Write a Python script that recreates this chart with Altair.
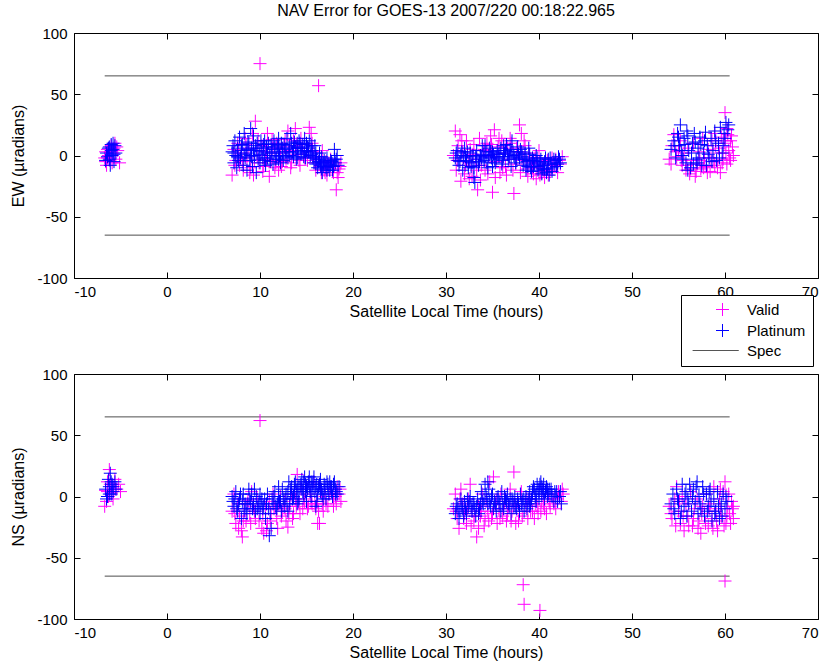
import altair as alt
import pandas as pd

TITLE = "NAV Error for GOES-13 2007/220 00:18:22.965"
X_TITLE = "Satellite Local Time (hours)"

x_ticks = [-10, 0, 10, 20, 30, 40, 50, 60, 70]
y_ticks = [-100, -50, 0, 50, 100]

# spec limits (+/- 65 microradians) drawn over the span of the observations
spec_levels = [65, -65]
spec_start = -6.7
spec_end = 60.5

series_names = ["Valid", "Platinum", "Spec"]
series_colors = ["#ff00ff", "#0000ff", "#555555"]

# ---- EW error, valid landmarks (hours, microradians)
ew_valid = [
    (-6.7, -2), (-6.6, 3), (-6.5, -8), (-6.4, 5), (-6.2, -4), (-6.0, 8), (-5.9, -6),
    (-5.8, 2), (-5.6, 10), (-5.5, -3), (-5.3, 4), (-5.1, -6), (-6.3, 0), (-5.7, 6),
    (-6.6, -5), (-6.1, 3), (-5.4, 7), (-6.4, -2),
    (7.0, -16), (7.2, 5), (7.4, -4), (7.6, 10), (7.8, -8), (8.0, 2), (8.2, -12), (8.4, 14),
    (8.6, -2), (8.8, 6), (9.0, -10), (9.2, 18), (9.3, -16), (9.5, 28), (9.7, 0), (9.9, -6),
    (10.0, 75), (10.2, 8), (10.4, -9), (10.6, 3), (10.8, 18), (11.0, -17), (11.2, -4),
    (11.4, 6), (11.6, -10), (11.8, 10), (12.0, -12), (12.2, 2), (12.4, -5), (12.6, 7),
    (12.8, -3), (13.0, 20), (13.2, 4), (13.4, -6), (13.6, 12), (13.8, 22), (14.0, 1),
    (14.2, -4), (14.4, 14), (14.6, 6), (14.8, -2), (15.0, 9), (15.3, 23), (15.5, 18),
    (15.7, 3), (15.9, -6), (16.1, -2), (16.3, 57), (16.5, -9), (16.7, 4), (16.9, -12),
    (17.1, -5), (17.3, -10), (17.6, -3), (17.9, -14), (18.0, -8), (18.2, -28), (18.3, -14),
    (18.5, -11), (18.7, -6),
    (7.3, -8), (7.7, 4), (8.1, -5), (8.5, 9), (8.9, -14), (9.4, -4), (9.8, 12), (10.3, -13),
    (10.7, -3), (11.3, 13), (11.7, -6), (12.3, -9), (12.7, 13), (13.3, -10), (13.9, 8),
    (14.3, -8), (15.1, -4), (15.6, 10), (16.0, -12), (16.6, -14), (17.0, -14), (17.4, -6),
    (17.8, -9), (18.4, -18), (18.6, -9), (17.2, -16),
    (30.8, 0), (31.0, 20), (31.1, -12), (31.3, 8), (31.5, 17), (31.6, -21), (31.8, 3),
    (32.0, -15), (32.2, 12), (32.4, -6), (32.6, 5), (32.8, -17), (33.0, 9), (33.2, -3),
    (33.4, -28), (33.6, 14), (33.8, -8), (34.0, 4), (34.2, -12), (34.4, 10), (34.6, -1),
    (34.8, 16), (35.0, -30), (35.2, 21), (35.4, -5), (35.6, 7), (35.8, -14), (36.0, 12),
    (36.2, 2), (36.4, -9), (36.6, 6), (36.8, -3), (37.0, 10), (37.3, -31), (37.5, -7),
    (37.7, 3), (37.9, 25), (38.1, 18), (38.3, -4), (38.5, 8), (38.7, -11), (38.9, 2),
    (39.2, -6), (39.4, -15), (39.6, -2), (39.8, -10), (40.0, 4), (40.2, -13), (40.4, -7),
    (40.6, -18), (40.9, -4), (41.2, -12), (41.5, -8), (41.8, -3), (42.0, -14), (42.3, -7),
    (42.5, -1),
    (31.2, -4), (31.7, 12), (32.1, -8), (32.5, -19), (32.9, 1), (33.3, -12), (33.7, -20),
    (34.1, 5), (34.5, -15), (34.9, 9), (35.3, -18), (35.7, 14), (36.1, -10), (36.5, -16),
    (36.9, 14), (37.2, -12), (37.6, 6), (38.0, -14), (38.4, 12), (38.8, -17), (39.3, -10),
    (39.7, -19), (40.1, -16), (40.5, -12), (41.0, -16), (41.4, -2), (41.9, -9), (42.2, -4),
    (54.0, -3), (54.3, 8), (54.5, 17), (54.8, -1), (55.0, 4), (55.2, 12), (55.4, -8),
    (55.6, 2), (55.8, -12), (56.0, 6), (56.2, -15), (56.4, -4), (56.6, 10), (56.8, -17),
    (57.0, -7), (57.2, 3), (57.4, -11), (57.6, 14), (57.8, -2), (58.0, -9), (58.2, 5),
    (58.4, -13), (58.6, 12), (58.8, -5), (59.0, 8), (59.2, -10), (59.4, 2), (59.6, 15),
    (59.8, -3), (60.0, 35), (60.0, 10), (60.2, -7), (60.4, 4), (60.6, 12), (60.8, 7),
    (60.9, 0), (59.5, -14), (58.9, 18), (60.3, 17),
    (54.2, -7), (54.7, 3), (55.3, -4), (55.9, -8), (56.3, -11), (56.9, -13), (57.3, -4),
    (57.7, -10), (58.1, -14), (58.5, -2), (58.9, -8), (59.3, 6), (59.7, -6), (60.1, 2),
    (60.5, -2), (60.7, 16), (60.2, 22), (59.9, 12), (60.6, -4),
]

# ---- EW error, platinum landmarks
ew_platinum = [
    (-6.6, -4), (-6.5, 2), (-6.3, 6), (-6.2, -3), (-6.0, 9), (-5.9, 0), (-5.8, 5),
    (-5.7, -5), (-5.6, 8), (-5.5, 2), (-6.1, -8), (-5.8, 10),
    (-6.4, -1), (-6.0, 4), (-5.7, 1), (-6.2, 7),
    (7.0, 3), (7.2, -6), (7.3, 12), (7.5, -10), (7.6, 6), (7.8, 15), (7.9, -2), (8.1, 9),
    (8.2, -8), (8.3, 18), (8.5, 2), (8.6, -12), (8.7, 11), (8.9, -4), (9.0, 22), (9.1, 6),
    (9.2, -9), (9.3, 16), (9.4, 0), (9.6, -14), (9.7, 10), (9.9, 4), (10.0, -6), (10.1, 12),
    (10.3, -2), (10.4, 6), (10.6, -8), (10.8, 2), (10.9, 10), (11.1, -5), (11.3, 5),
    (11.5, 12), (11.7, -3), (11.9, 8), (12.1, 0), (12.3, 10), (12.5, -4), (12.7, 5),
    (12.9, 14), (13.0, -2), (13.2, 8), (13.3, 18), (13.5, 3), (13.7, 11), (13.9, -3),
    (14.0, 6), (14.2, 12), (14.4, 1), (14.6, 9), (14.8, 14), (14.9, -2), (15.1, 7),
    (15.3, 12), (15.4, 0), (15.6, 4), (15.8, -6), (15.9, 8), (16.1, -3), (16.2, -10),
    (16.4, 2), (16.5, -8), (16.7, -14), (16.9, -4), (17.1, -10), (17.3, -7), (17.5, -12),
    (17.7, -5), (17.9, -9), (18.0, 5), (18.2, -3), (18.4, -8),
    (7.1, 8), (7.4, 0), (7.7, -4), (8.0, 4), (8.4, -2), (8.8, 10), (9.1, -1), (9.5, 8),
    (9.8, -3), (10.2, 3), (10.5, -4), (10.7, 7), (11.0, 0), (11.2, 9), (11.4, -7),
    (11.6, 3), (11.8, -1), (12.0, 6), (12.2, -6), (12.4, 2), (12.6, 9), (12.8, -1),
    (13.1, 3), (13.4, 10), (13.6, -1), (13.8, 7), (14.1, 2), (14.3, 10), (14.5, 4),
    (14.7, -1), (15.0, 10), (15.2, 3), (15.5, 8), (15.7, -2), (16.0, 2), (16.3, -5),
    (16.6, -1), (16.8, -9), (17.0, -6), (17.2, -2), (17.4, -9), (17.6, -4), (17.8, -12),
    (18.1, -6), (18.3, 0), (14.0, -2), (15.0, 4), (16.0, -7), (12.0, 14), (10.5, 12),
    (7.2, 2), (7.6, -1), (8.0, 8), (8.3, 1), (8.6, 5), (9.0, 0), (9.3, 4), (9.6, 6),
    (10.0, 1), (10.4, 9), (10.8, -2), (11.2, 2), (11.6, 7), (12.0, -3), (12.4, 6),
    (12.8, 3), (13.2, 0), (13.6, 6), (14.0, 10), (14.4, 6), (14.8, 3), (15.2, 6),
    (15.6, 1), (16.0, -1), (16.4, -3), (16.8, -6), (17.2, -12), (17.6, -8), (18.0, -3),
    (16.6, -11),
    (31.0, -2), (31.2, 4), (31.4, -8), (31.6, 0), (31.8, -12), (32.0, 6), (32.2, -4),
    (32.4, -10), (32.6, 2), (32.8, -6), (33.0, -18), (33.1, -22), (33.3, 4), (33.5, -8),
    (33.7, 0), (33.9, 8), (34.1, -4), (34.3, 3), (34.5, -10), (34.7, 6), (34.9, -2),
    (35.1, 1), (35.3, -6), (35.5, 4), (35.7, -1), (35.9, 6), (36.1, -4), (36.3, 2),
    (36.5, 9), (36.7, -3), (36.9, 5), (37.1, 12), (37.3, 0), (37.5, -6), (37.7, 7),
    (37.9, -2), (38.1, 3), (38.3, -8), (38.5, 2), (38.7, -5), (38.9, 6), (39.1, -10),
    (39.3, -2), (39.5, -7), (39.7, 0), (39.9, -12), (40.1, -5), (40.3, -15), (40.5, -8),
    (40.7, -2), (40.9, -11), (41.1, -16), (41.3, -6), (41.6, -3), (41.9, -9), (42.1, -1),
    (42.3, -6),
    (31.1, 2), (31.5, -5), (31.9, -2), (32.3, 3), (32.7, -9), (33.2, -1), (33.6, -5),
    (34.0, 1), (34.4, -6), (34.8, 3), (35.2, -3), (35.6, 1), (36.0, -7), (36.4, 4),
    (36.8, -1), (37.2, 3), (37.6, -3), (38.0, 5), (38.4, -3), (38.8, -9), (39.0, 1),
    (39.4, -4), (39.8, -6), (40.0, -9), (40.2, -3), (40.4, -11), (40.6, -5), (40.8, -14),
    (41.0, -7), (41.2, -2), (41.4, -10), (41.8, -4), (42.0, -7), (39.2, -13), (38.6, -12),
    (37.0, -9), (36.2, 8), (35.0, -9), (34.2, 8), (33.0, -10),
    (31.3, -4), (31.7, 3), (32.1, -1), (32.5, -5), (32.9, 0), (33.3, -3), (33.8, -2),
    (34.2, -1), (34.6, 0), (35.0, 3), (35.4, -2), (35.8, 2), (36.2, -1), (36.6, 1),
    (37.0, 3), (37.4, -2), (37.8, 1), (38.2, -1), (38.6, -3), (39.0, -4), (39.4, -9),
    (39.8, -2), (40.2, -8), (40.6, -11), (41.0, -3), (41.4, -13), (41.7, -7), (42.2, -3),
    (54.2, 5), (54.5, 12), (54.7, -2), (54.9, 18), (55.1, 8), (55.2, 25), (55.4, 0),
    (55.6, 14), (55.8, -6), (55.9, 20), (56.1, 4), (56.3, -10), (56.5, 10), (56.7, 18),
    (56.9, -3), (57.1, 6), (57.3, 15), (57.5, -8), (57.7, 2), (57.9, 19), (58.1, 8),
    (58.3, -2), (58.5, 14), (58.7, 4), (58.9, 20), (59.1, -4), (59.3, 10), (59.5, 23),
    (59.7, 2), (59.9, 18), (60.1, 27), (60.3, 21), (56.0, -12), (57.0, -6), (58.0, -8),
    (54.6, 8), (55.0, 15), (55.3, 4), (55.7, 9), (56.0, 16), (56.4, 2), (56.8, 11),
    (57.2, -2), (57.4, 9), (57.8, 12), (58.2, 1), (58.6, -5), (59.0, 12), (59.4, -2),
    (59.8, 8), (60.0, 14), (60.4, 25), (55.5, -3), (56.6, -7),
]

# ---- NS error, valid landmarks
ns_valid = [
    (-6.7, -8), (-6.6, 5), (-6.4, 12), (-6.3, 0), (-6.2, 22), (-6.0, 3), (-5.9, 8),
    (-5.8, -2), (-5.6, 14), (-5.4, 6), (-5.2, 10), (-5.0, 4), (-6.5, -4),
    (-6.1, 10), (-5.7, 6), (-6.4, 4),
    (7.0, -12), (7.2, 2), (7.4, -22), (7.6, -6), (7.8, -16), (8.0, -28), (8.1, -33),
    (8.3, -10), (8.5, -20), (8.7, -3), (8.9, -14), (9.1, 4), (9.3, -8), (9.5, -18),
    (9.7, -2), (10.0, 62), (10.2, -26), (10.4, -30), (10.6, -10), (10.8, -22), (11.0, -4),
    (11.2, -14), (11.4, 2), (11.6, -8), (11.8, -18), (12.0, -6), (12.2, 0), (12.4, -12),
    (12.6, -4), (12.8, -20), (13.0, -25), (13.2, -8), (13.4, 2), (13.6, -14), (13.8, -2),
    (14.0, 18), (14.2, -6), (14.4, 6), (14.6, -10), (14.8, -4), (15.0, 8), (15.2, -8),
    (15.4, 2), (15.6, -6), (15.8, 12), (16.0, -10), (16.2, -4), (16.4, -22), (16.6, 4),
    (16.8, -12), (17.0, 0), (17.3, -8), (17.6, 6), (17.9, -2), (18.1, 0), (18.3, 8),
    (18.5, 2), (18.7, -4),
    (7.3, -14), (7.7, -26), (8.2, -20), (8.6, -6), (9.0, -22), (9.4, -12), (9.9, -20),
    (10.3, -14), (10.7, -28), (11.1, -20), (11.5, -10), (11.9, -26), (12.3, -16),
    (12.7, -10), (13.1, -14), (13.5, -18), (13.9, -8), (14.3, -14), (14.7, -2), (15.1, -10),
    (15.5, -4), (15.9, -6), (16.3, -12), (16.7, -6), (17.1, -6), (17.5, 2), (17.9, -8),
    (18.2, -6), (18.6, 6), (16.2, -22),
    (30.8, -10), (31.0, 2), (31.2, -18), (31.4, -26), (31.6, 6), (31.8, -6), (32.0, -14),
    (32.2, -22), (32.4, -2), (32.6, 10), (32.8, -12), (33.0, -20), (33.3, -33), (33.5, -8),
    (33.7, -16), (33.9, 2), (34.1, -24), (34.3, -4), (34.5, -12), (34.7, 12), (34.9, -18),
    (35.1, 16), (35.3, -6), (35.5, -22), (35.7, -10), (35.9, 2), (36.1, -16), (36.3, -4),
    (36.5, -20), (36.7, -8), (36.9, 6), (37.1, -12), (37.3, 20), (37.5, -22), (37.7, -4),
    (37.9, -14), (38.1, 4), (38.3, -72), (38.4, -88), (38.6, -8), (38.8, -18), (39.0, -2),
    (39.3, -12), (39.6, -6), (39.9, -14), (40.1, -93), (40.3, -4), (40.6, -10), (40.9, 2),
    (41.2, -8), (41.5, -2), (41.8, -10), (42.1, 4), (42.4, -4), (42.6, 2),
    (31.1, -12), (31.5, -2), (31.9, -18), (32.3, -10), (32.7, -24), (33.1, -16), (33.5, -26),
    (33.8, -12), (34.2, -18), (34.6, -20), (35.0, -14), (35.4, -4), (35.8, -18), (36.2, -10),
    (36.6, -14), (37.0, -20), (37.4, -6), (37.8, -20), (38.2, -16), (38.7, -2), (39.1, -12),
    (39.5, -18), (39.8, -8), (40.2, -12), (40.5, -6), (40.8, -14), (41.1, -4), (41.6, -6),
    (42.0, -2), (42.5, 6),
    (54.0, -8), (54.3, -18), (54.6, -2), (54.8, 8), (55.0, -12), (55.2, -22), (55.4, 0),
    (55.6, -28), (55.8, -6), (56.0, -16), (56.3, 4), (56.5, -24), (56.7, -10), (57.0, -2),
    (57.2, -20), (57.4, -30), (57.6, -8), (57.8, -14), (58.0, 2), (58.2, -24), (58.4, -6),
    (58.6, -18), (58.8, 8), (59.0, -12), (59.2, -28), (59.4, -2), (59.6, -16), (59.8, 4),
    (60.0, 12), (60.0, -69), (60.1, -22), (60.3, -8), (60.5, -14), (60.7, -4), (60.9, -18),
    (60.8, -10), (59.5, 6),
    (54.2, -14), (54.7, -24), (55.1, -4), (55.5, -16), (56.1, -24), (56.6, -18),
    (57.1, -26), (57.5, -14), (57.9, -22), (58.3, -10), (58.7, -26), (59.1, -20),
    (59.5, -10), (59.9, -24), (60.2, -16), (60.6, -22), (60.9, -8), (60.4, 2),
]

# ---- NS error, platinum landmarks
ns_platinum = [
    (-6.6, 6), (-6.4, 0), (-6.3, 14), (-6.2, 8), (-6.1, 19), (-6.0, 2), (-5.9, 10),
    (-5.8, 4), (-5.6, 12), (-5.5, 6), (-6.5, -2),
    (-6.2, 2), (-5.8, 8), (-6.0, 12),
    (7.0, 0), (7.2, -8), (7.4, 4), (7.6, -12), (7.8, -2), (8.0, -18), (8.2, 2), (8.4, -6),
    (8.6, -14), (8.8, 6), (9.0, -4), (9.2, -10), (9.4, 6), (9.6, 0), (9.8, -8), (10.0, -14),
    (10.2, -2), (10.4, -8), (10.6, -18), (10.8, 2), (11.0, -32), (11.2, -26), (11.4, -6),
    (11.6, 4), (11.8, -10), (12.0, 0), (12.2, -4), (12.4, 6), (12.6, -8), (12.8, 2),
    (13.0, -12), (13.1, 12), (13.3, 6), (13.5, -2), (13.7, 10), (13.9, 4), (14.1, -4),
    (14.3, 8), (14.5, 14), (14.7, 2), (14.9, 10), (15.1, 6), (15.3, 16), (15.5, 0),
    (15.7, 12), (15.9, 4), (16.1, -4), (16.3, 8), (16.5, 14), (16.7, 2), (16.9, 10),
    (17.1, -2), (17.3, 6), (17.5, 12), (17.7, 4), (17.9, 10), (18.1, 6), (18.3, 2), (18.5, 8),
    (7.1, -4), (7.5, -10), (7.9, 2), (8.3, -12), (8.7, -6), (9.1, 2), (9.5, -12), (9.9, -4),
    (10.3, -10), (10.7, -6), (11.1, -14), (11.5, 0), (11.9, -6), (12.3, -12), (12.7, -2),
    (13.0, 4), (13.2, -6), (13.4, 8), (13.6, 0), (13.8, 12), (14.0, 6), (14.2, -2),
    (14.4, 10), (14.6, 4), (14.8, 16), (15.0, 8), (15.2, 12), (15.4, 4), (15.6, 10),
    (15.8, 16), (16.0, 8), (16.2, 2), (16.4, 10), (16.6, 6), (16.8, -2), (17.0, 8),
    (17.2, 12), (17.4, 2), (17.6, 8), (17.8, 0), (18.0, 12), (18.2, 4), (14.0, -6),
    (15.0, -4), (16.0, -8), (12.0, 8), (10.0, 2),
    (7.3, -2), (7.7, -6), (8.1, -4), (8.5, -10), (8.9, -2), (9.3, -6), (9.7, -10),
    (10.1, -6), (10.5, -2), (10.9, -10), (11.3, -2), (11.7, -8), (12.1, -4), (12.5, -2),
    (12.9, -6), (13.3, 2), (13.7, 4), (14.1, 8), (14.5, 6), (14.9, 4), (15.3, 8),
    (15.7, 6), (16.1, 10), (16.5, 4), (16.9, 4), (17.3, 10), (17.7, 8), (18.1, 2),
    (15.5, 12), (14.7, 12),
    (31.0, -14), (31.2, -6), (31.4, -18), (31.6, -2), (31.8, -10), (32.0, -4), (32.2, -14),
    (32.4, -8), (32.6, 0), (32.8, -12), (33.0, -6), (33.2, -16), (33.4, -2), (33.6, -10),
    (33.8, 4), (34.0, -6), (34.2, 10), (34.4, -2), (34.6, 6), (34.8, -8), (35.0, 2),
    (35.2, -4), (35.4, -12), (35.6, 0), (35.8, -6), (36.0, 4), (36.2, -10), (36.4, -2),
    (36.6, 2), (36.8, -8), (37.0, -14), (37.2, -4), (37.4, 0), (37.6, -10), (37.8, -6),
    (38.0, 2), (38.2, -4), (38.4, -12), (38.6, 0), (38.8, -6), (39.0, 4), (39.2, -2),
    (39.4, 8), (39.6, 0), (39.8, 10), (40.0, 4), (40.2, 12), (40.4, 6), (40.6, -2),
    (40.8, 8), (41.0, 2), (41.3, 6), (41.6, -4), (41.9, 4), (42.2, 0), (42.4, -6),
    (31.1, -8), (31.5, -12), (31.9, -16), (32.3, -2), (32.7, -8), (33.1, -10), (33.5, -14),
    (33.9, -4), (34.3, 2), (34.7, -4), (35.1, -10), (35.5, -2), (35.9, -12), (36.3, 0),
    (36.7, -6), (37.1, -2), (37.5, -8), (37.9, -12), (38.3, -2), (38.7, -10), (39.1, -6),
    (39.3, 2), (39.5, 6), (39.7, -4), (39.9, 6), (40.1, 10), (40.3, 2), (40.5, 10),
    (40.7, 4), (40.9, 0), (41.1, 6), (41.4, 0), (41.7, 4), (42.0, -4), (42.3, 4),
    (40.0, -2), (39.0, -8), (34.5, 12),
    (31.3, -10), (31.7, -8), (32.1, -10), (32.5, -4), (32.9, -6), (33.3, -8), (33.7, -6),
    (34.1, -2), (34.5, -6), (34.9, 0), (35.3, -6), (35.7, -4), (36.1, -6), (36.5, -4),
    (36.9, -2), (37.3, -8), (37.7, -2), (38.1, -6), (38.5, -4), (38.9, -2), (39.3, 4),
    (39.7, 2), (40.1, 6), (40.5, 4), (40.9, 6), (41.3, 2), (41.8, 0), (40.3, 8),
    (54.2, -6), (54.4, 2), (54.6, -14), (54.8, 6), (55.0, -4), (55.2, -18), (55.4, 10),
    (55.6, -8), (55.8, 4), (56.0, -2), (56.2, 10), (56.4, -12), (56.6, 6), (56.8, -4),
    (57.0, 12), (57.2, 0), (57.4, -10), (57.6, 8), (57.8, -16), (58.0, 2), (58.2, -8),
    (58.4, 6), (58.6, -20), (58.8, -2), (59.0, -12), (59.2, 4), (59.4, -18), (59.6, -6),
    (59.8, 2), (60.0, -10), (60.2, -4),
    (54.5, -10), (54.9, -2), (55.3, -12), (55.7, 2), (56.1, -6), (56.5, 0), (56.9, 8),
    (57.3, -6), (57.7, 2), (58.1, -12), (58.5, -4), (58.9, -14), (59.3, -8), (59.7, -16),
    (60.1, 0), (55.9, -16), (57.1, -14), (58.3, 4),
]

FONT = "Liberation Sans"
CROSS = "M-1,0H1M0,-1V1"
# legend glyph for the spec line: a plain horizontal stroke, set a little left so it
# ends before the label
SPEC_GLYPH = "M-4.6,0H2.5"
TICK = 6
LABEL_SIZE = 15
TITLE_SIZE = 16

x_scale = alt.Scale(domain=[-10, 70], nice=False, zero=False)
y_scale = alt.Scale(domain=[-100, 100], nice=False, zero=False)
color_scale = alt.Scale(domain=series_names, range=series_colors)
shape_scale = alt.Scale(domain=series_names, range=[CROSS, CROSS, SPEC_GLYPH])


def frame(pairs, name):
    return pd.DataFrame({
        "t": [p[0] for p in pairs],
        "err": [p[1] for p in pairs],
        "series": name,
    })


def inner_axis(orient, values, labels, title="", title_padding=4, label_padding=7):
    # ticks point into the plot: the axis is pulled inside by the tick length
    opts = dict(
        orient=orient, values=values, offset=-TICK, tickSize=TICK, tickColor="black",
        tickWidth=1, domain=False, grid=False, labels=labels, title=title,
    )
    if labels:
        opts.update(
            labelFont=FONT, labelFontSize=LABEL_SIZE, labelColor="black",
            labelExpr="'' + datum.value", labelPadding=label_padding,
            titleFont=FONT, titleFontSize=TITLE_SIZE, titleFontWeight="normal",
            titleColor="black", titlePadding=title_padding,
        )
    return alt.Axis(**opts)


def panel(valid_pairs, platinum_pairs, y_title, legend, title=None):
    spec_df = pd.DataFrame({"level": spec_levels, "start": spec_start, "end": spec_end})
    spec = alt.Chart(spec_df).mark_rule(color="#4d4d4d", strokeWidth=1).encode(
        x=alt.X("start:Q", scale=x_scale, axis=None),
        x2="end:Q",
        y=alt.Y("level:Q", scale=y_scale, axis=None),
    )

    def pts(df, x_axis, y_axis):
        return alt.Chart(df).mark_point(filled=False, size=169, strokeWidth=1, opacity=1).encode(
            x=alt.X("t:Q", scale=x_scale, axis=x_axis),
            y=alt.Y("err:Q", scale=y_scale, axis=y_axis),
            color=alt.Color("series:N", scale=color_scale, legend=legend),
            shape=alt.Shape("series:N", scale=shape_scale, legend=legend),
        )

    bottom_left = pts(
        frame(valid_pairs, "Valid"),
        inner_axis("bottom", x_ticks, True, X_TITLE, 4, 6),
        inner_axis("left", y_ticks, True, y_title, 10, 7),
    )
    top_right = pts(
        frame(platinum_pairs, "Platinum"),
        inner_axis("top", x_ticks, False),
        inner_axis("right", y_ticks, False),
    )
    layered = alt.layer(spec, bottom_left, top_right).resolve_axis(
        x="independent", y="independent"
    )
    props = dict(width=744, height=245)
    if title is not None:
        props["title"] = alt.TitleParams(
            title, font=FONT, fontSize=TITLE_SIZE, fontWeight="normal", color="black",
            anchor="middle", offset=7,
        )
    return layered.properties(**props)


legend = alt.Legend(
    title=None, orient="none", legendX=607, legendY=262, direction="vertical",
    padding=7, rowPadding=4, symbolOffset=27, labelOffset=17,
    labelFont=FONT, labelFontSize=LABEL_SIZE, labelColor="black",
    strokeColor="black", fillColor="white", symbolSize=169, symbolStrokeWidth=1,
)

top = panel(ew_valid, ew_platinum, "EW (µradians)", legend, TITLE)
bottom = panel(ns_valid, ns_platinum, "NS (µradians)", None)

chart = (
    alt.vconcat(top, bottom, spacing=96, bounds="flush")
    .resolve_legend(color="independent", shape="independent")
    .properties(padding={"left": 10, "top": 2, "right": 5, "bottom": 5})
    .configure(font=FONT)
    .configure_view(stroke="black", strokeWidth=1)
)

chart.save("out.html", embed_options={"renderer": "svg", "actions": False})
